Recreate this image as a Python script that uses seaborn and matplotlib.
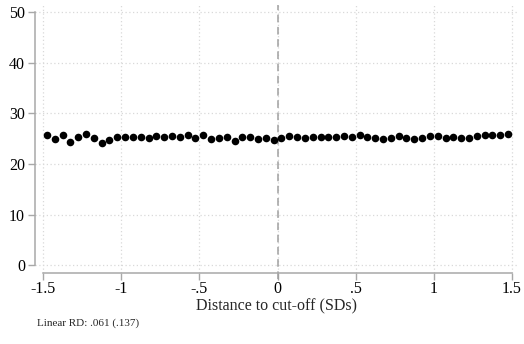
import matplotlib
matplotlib.use("Agg")
import matplotlib.pyplot as plt
import seaborn as sns
import numpy as np
import pandas as pd

# Bin centres (distance to cut-off, SDs)
x_bins = [round(-1.475 + 0.05 * i, 3) for i in range(60)]
# Mean outcome per bin
y_vals = [25.8, 24.9, 25.8, 24.4, 25.3, 26.0, 25.1, 24.2, 24.7, 25.4,
          25.3, 25.3, 25.4, 25.1, 25.6, 25.3, 25.5, 25.3, 25.8, 25.1,
          25.8, 25.0, 25.1, 25.3, 24.5, 25.3, 25.3, 24.9, 25.1, 24.8,
          25.1, 25.6, 25.4, 25.1, 25.3, 25.3, 25.3, 25.3, 25.6, 25.3,
          25.7, 25.3, 25.1, 25.0, 25.1, 25.6, 25.2, 25.0, 25.1, 25.6,
          25.5, 25.1, 25.3, 25.2, 25.1, 25.6, 25.8, 25.8, 25.8, 26.0]
x_ticks = [-1.5, -1, -0.5, 0, 0.5, 1, 1.5]
x_ticklabels = ["-1.5", "-1", "-.5", "0", ".5", "1", "1.5"]
y_ticks = [0, 10, 20, 30, 40, 50]
x_label = "Distance to cut-off (SDs)"
note = "Linear RD: .061 (.137)"

df = pd.DataFrame({"x": x_bins, "y": y_vals})

sns.set_style("white")
plt.rcParams["font.family"] = ["Liberation Serif", "DejaVu Serif"]

fig = plt.figure(figsize=(5.24, 3.44), dpi=100)
ax = fig.add_axes([0.0662, 0.2073, 0.9885 - 0.0662, 0.9855 - 0.2073])

ax.set_xlim(-1.553, 1.538)
ax.set_ylim(-1.46, 51.38)

for yv in y_ticks:
    ax.axhline(yv, color="#d9d9d9", linestyle=(0, (1, 2)), linewidth=0.9, zorder=0)
for xv in x_ticks:
    ax.axvline(xv, color="#d9d9d9", linestyle=(0, (1, 2)), linewidth=0.9, zorder=0)

ax.axvline(0, ymin=-0.025, ymax=1, color="#a0a0a0", linestyle=(0, (5, 3)),
           linewidth=1.1, clip_on=False, zorder=1)

sns.scatterplot(data=df, x="x", y="y", ax=ax, color="black", s=30,
                edgecolor="black", linewidth=0, zorder=3, legend=False)

ax.set_xticks(x_ticks)
ax.set_xticklabels(x_ticklabels)
ax.set_yticks(y_ticks)
ax.set_yticklabels([str(v) for v in y_ticks])

for s in ["top", "right"]:
    ax.spines[s].set_visible(False)
ax.spines["left"].set_bounds(0, 50)
ax.spines["bottom"].set_bounds(-1.5, 1.5)
for s in ["left", "bottom"]:
    ax.spines[s].set_color("#a8a8a8")
    ax.spines[s].set_linewidth(1.1)
ax.tick_params(axis="both", direction="out", length=5, width=1.0,
               color="#a8a8a8", labelsize=11.5, labelcolor="black", pad=2,
               left=True, bottom=True)
ax.tick_params(axis="x", pad=1)

ax.set_xlabel(x_label, fontsize=11.5, labelpad=1)
ax.set_ylabel("")

fig.text(37 / 524, 1 - 326 / 344, note, fontsize=8, ha="left", va="baseline")

fig.savefig("out.png", dpi=100)
